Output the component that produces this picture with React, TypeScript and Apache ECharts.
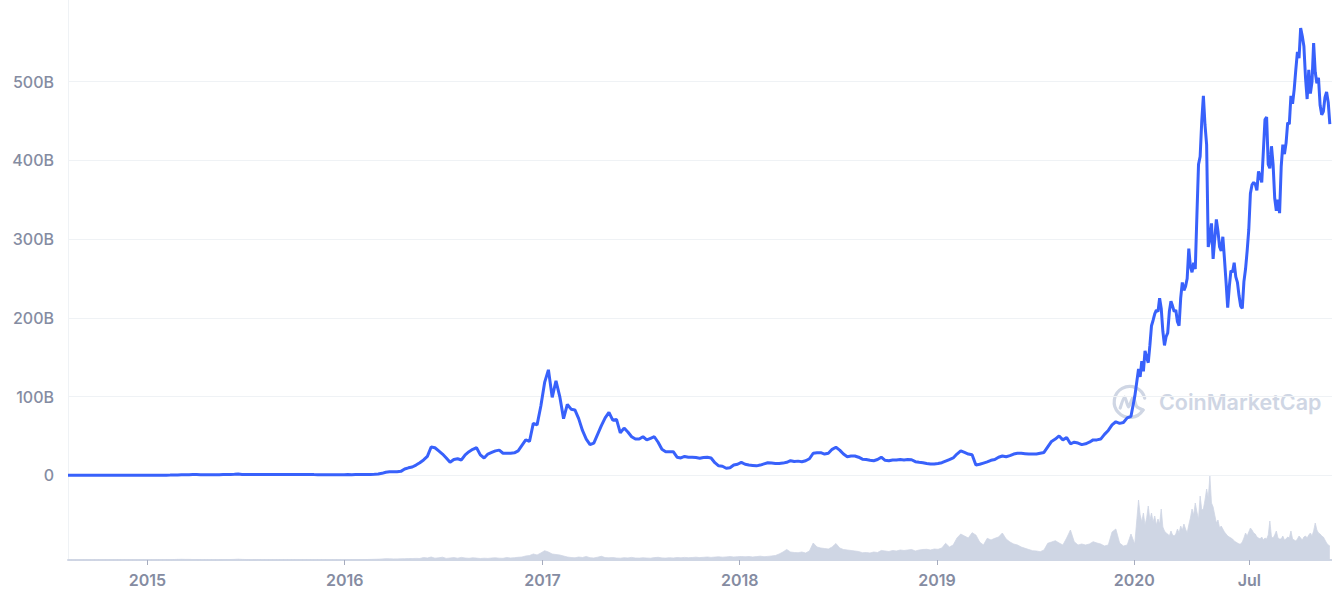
import { useEffect, useRef } from "react";
import * as echarts from "echarts";

// ---- data -------------------------------------------------------------
const X_MIN = "2014-08-07";
const X_MAX = "2021-01-01";

// weekly samples of market cap (billions USD)
const WEEKLY_START = "2014-08-07";
const WEEKLY_STEP_DAYS = 7;
const CAP_WEEKLY = [
  0.2, 0.13, 0.1, 0.09, 0.1, 0.09, 0.07, 0.08, 0.07, 0.07,
  0.08, 0.07, 0.07, 0.08, 0.07, 0.07, 0.07, 0.06, 0.06, 0.06,
  0.07, 0.07, 0.07, 0.11, 0.16, 0.18, 0.2, 0.25, 0.35, 0.5,
  0.7, 0.8, 0.85, 0.95, 0.9, 0.75, 0.65, 0.6, 0.6, 0.7,
  0.8, 0.9, 1.0, 1.1, 1.2, 1.6, 1.15, 1.0, 0.9, 0.95,
  1.1, 1.0, 0.9, 0.9, 0.9, 0.95, 1.0, 1.0, 1.05, 1.1,
  1.1, 1.05, 1.0, 1.0, 0.98, 0.9, 0.85, 0.8, 0.73, 0.72,
  0.73, 0.68, 0.63, 0.7, 0.87, 0.85, 0.92, 0.95, 0.97, 1.0,
  1.12, 1.3, 1.7, 2.5, 3.9, 4.5, 4.6, 4.5, 5, 8,
  9.5, 10.5, 13, 16, 19.5, 24, 36, 35, 31, 27,
  22, 16.5, 20, 21, 19.5, 26, 30, 33, 35, 26,
  22, 27, 29, 31, 32, 28, 28, 28, 28.5, 31,
  38, 45, 43, 66, 64, 88, 118, 134, 99, 120,
  100, 72, 90, 84, 83, 72, 57, 46, 39, 41,
  52, 63, 73, 80, 70, 71, 54, 60, 55, 49,
  46, 46, 49, 45, 47, 49, 42, 33, 30, 30,
  30, 23, 22, 24, 23, 23, 22.5, 21.6, 22.5, 23,
  22, 16, 12, 11.5, 9, 9.5, 13, 14, 16.5, 14,
  13, 12.5, 12, 13, 14.5, 16, 15.5, 15, 15, 15.5,
  16.5, 18.5, 17.5, 18, 17.3, 18.5, 21, 28, 28.5, 28.7,
  27, 28, 33, 35.6, 32, 27, 23.6, 24.5, 24.5, 23,
  20.5, 20, 19, 18.5, 20, 23, 19, 18.5, 19.5, 19.5,
  20, 19.5, 20, 19.8, 17.3, 16.5, 16, 15, 14.3, 14.5,
  15, 16, 18, 20, 22, 27, 31, 29, 27, 26,
  13, 14, 15.5, 17, 19, 20, 23, 24.5, 23.6, 25,
  27, 28, 28, 27.5, 27, 27, 27, 28, 29, 36,
  43, 46, 50, 45, 48, 40, 42, 41, 39, 40,
  42, 45, 45, 46, 52, 57, 64, 68, 66, 67,
  73, 75, 100,
];

// trading volume, weekly samples (arbitrary billions)
const VOL_WEEKLY = [
  0.3, 0.2, 0.2, 0.2, 0.2, 0.2, 0.2, 0.2, 0.2, 0.2,
  0.2, 0.2, 0.2, 0.2, 0.2, 0.2, 0.2, 0.2, 0.2, 0.2,
  0.2, 0.2, 0.2, 0.2, 0.3, 0.3, 0.3, 0.4, 0.5, 0.6,
  0.7, 0.6, 0.6, 0.5, 0.5, 0.4, 0.4, 0.4, 0.4, 0.4,
  0.4, 0.5, 0.5, 0.5, 0.6, 0.8, 0.6, 0.5, 0.4, 0.4,
  0.5, 0.4, 0.4, 0.4, 0.4, 0.4, 0.4, 0.4, 0.4, 0.4,
  0.4, 0.4, 0.4, 0.4, 0.4, 0.4, 0.4, 0.4, 0.4, 0.4,
  0.4, 0.4, 0.4, 0.4, 0.5, 0.5, 0.5, 0.5, 0.5, 0.5,
  0.6, 0.7, 0.8, 1.0, 1.3, 1.2, 1.1, 1.1, 1.2, 1.3,
  1.4, 1.5, 1.6, 1.5, 2.5, 2, 3, 1.8, 2.2, 2.8,
  1.6, 2, 2.4, 1.8, 2.6, 2, 1.7, 2.2, 1.9, 1.5,
  1.8, 1.6, 2, 2.2, 1.8, 1.7, 2.5, 2, 2.3, 2.7,
  3, 4, 4.5, 6, 5, 7, 9.3, 8, 6, 5.5,
  5, 4, 3, 2.5, 2.2, 3, 2.5, 3.5, 2.3, 2,
  2.8, 3.7, 2.4, 2.2, 2.5, 2, 1.8, 2.3, 2.1, 2.6,
  2, 1.9, 2.2, 2, 1.8, 2.4, 2.7, 2.1, 1.9, 2.3,
  2, 2.5, 2.2, 2.6, 2.3, 2.5, 2.8, 2.4, 2.7, 3,
  2.6, 2.9, 3.2, 2.8, 3.1, 3.4, 3, 3.3, 3.5, 3.2,
  3.5, 3, 3.4, 3.8, 3.3, 3.6, 4, 4.5, 6, 8,
  10.5, 8, 7.5, 7.3, 8, 7, 9, 17, 13, 12,
  11.5, 11, 13, 16.5, 12, 10.5, 10, 9.5, 9, 8.5,
  7.3, 7.5, 7, 8, 7.5, 9.5, 9, 8.5, 9.5, 9,
  10, 9.5, 10, 10.5, 9, 10, 10.5, 10.7, 10, 11,
  10.7, 12, 16.7, 13, 15, 22, 26, 24, 22, 27.3,
  25, 18, 15, 21.7, 20, 21.7, 23, 27, 21, 18,
  16, 15, 13, 11.7, 10.5, 9.3, 9, 8.3, 10, 16.7,
  18, 19.3, 17, 15, 22, 30, 18.3, 15, 16, 15,
  16, 18.3, 17, 16, 14, 15, 28, 31, 17, 14,
  15, 26, 16,
];

// denser samples for the volatile last year
const DENSE_START = "2020-01-09";
const DENSE_STEP_DAYS = 3;
const CAP_DENSE = [
  135, 125, 145, 132, 158, 150, 143, 165, 190, 197,
  205, 210, 208, 225, 212, 183, 165, 176, 181, 208,
  221, 215, 208, 210, 195, 190, 225, 245, 235, 240,
  250, 288, 265, 258, 270, 262, 330, 395, 405, 450,
  482, 445, 420, 290, 300, 320, 275, 300, 325, 310,
  290, 285, 303, 275, 245, 213, 240, 260, 258, 270,
  252, 245, 228, 215, 212, 246, 262, 285, 312, 358,
  369, 372, 370, 362, 386, 380, 372, 412, 452, 455,
  395, 390, 418, 395, 352, 336, 350, 333, 392, 420,
  408, 422, 448, 446, 482, 472, 490, 515, 538, 530,
  568, 558, 545, 505, 478, 515, 485, 500, 549, 512,
  498, 505, 470, 458, 462, 480, 487, 474, 446,
];
const VOL_DENSE = [
  60, 45, 38, 47, 35, 42, 54, 40, 47, 38,
  44, 35, 41, 36, 51, 33, 29, 27, 26, 24,
  29, 25, 24, 26, 31, 27, 34, 30, 36, 31,
  27, 35, 42, 51, 45, 57, 48, 41, 64, 50,
  51, 60, 71, 62, 84, 57, 53, 45, 37, 40,
  32, 34, 31, 28, 26, 24, 23, 22, 21, 19,
  18, 17, 16, 16, 18, 22, 27, 24, 28, 32,
  30, 27, 26, 23, 22, 21, 23, 20, 22, 21,
  25, 39, 23, 22, 25, 29, 22, 21, 21, 24,
  20, 21, 23, 22, 29, 21, 20, 19, 21, 24,
  22, 20, 23, 24, 22, 25, 27, 24, 29, 37,
  30, 27, 26, 24, 23, 20, 17, 15, 14,
];

const TICK_DATES = ["2015-01-01", "2016-01-01", "2017-01-01", "2018-01-01", "2019-01-01", "2020-01-01", "2020-08-01"];
const TICK_LABELS = ["2015", "2016", "2017", "2018", "2019", "2020", "Jul"];

const Y_MAX = 500;
const Y_STEP = 100;
const VOL_AXIS_MAX = 84;

// ---- helpers -----------------------------------------------------------
const DAY = 86400000;
const ts = (d: string) => Date.parse(d + "T00:00:00Z");

function seriesPairs(start: string, stepDays: number, values: number[]) {
  const t0 = ts(start);
  return values.map((v, i) => [t0 + i * stepDays * DAY, v]);
}

const FONT = "Inter, 'Noto Sans', sans-serif";
const LABEL_COLOR = "#858ca2";

export default function App() {
  const ref = useRef<HTMLDivElement>(null);

  useEffect(() => {
    if (!ref.current) return;
    const chart = echarts.init(ref.current, undefined, { renderer: "svg" });

    const capData = [
      ...seriesPairs(WEEKLY_START, WEEKLY_STEP_DAYS, CAP_WEEKLY),
      ...seriesPairs(DENSE_START, DENSE_STEP_DAYS, CAP_DENSE),
    ];
    const volData = [
      ...seriesPairs(WEEKLY_START, WEEKLY_STEP_DAYS, VOL_WEEKLY),
      ...seriesPairs(DENSE_START, DENSE_STEP_DAYS, VOL_DENSE),
    ];
    const tickTimes = TICK_DATES.map(ts);
    const labelFor = (v: number) => {
      let best = 0;
      for (let i = 1; i < tickTimes.length; i++) {
        if (Math.abs(tickTimes[i] - v) < Math.abs(tickTimes[best] - v)) best = i;
      }
      return TICK_LABELS[best];
    };

    const cx = 1129.7;
    const cy = 402;

    chart.setOption({
      animation: false,
      backgroundColor: "#ffffff",
      grid: [
        { left: 68, right: 0, top: 81.7, height: 393.6 },
        { left: 68, right: 0, top: 476, height: 84 },
      ],
      xAxis: [
        { type: "value", gridIndex: 0, min: ts(X_MIN), max: ts(X_MAX), show: false, splitLine: { show: false } },
        {
          type: "value",
          gridIndex: 1,
          min: ts(X_MIN),
          max: ts(X_MAX),
          axisLine: { show: true, lineStyle: { color: "#cfd6e4", width: 2 } },
          axisTick: { show: true, customValues: tickTimes, length: 5, lineStyle: { color: "#a6acbe", width: 1 } },
          axisLabel: {
            customValues: tickTimes,
            formatter: (v: number) => labelFor(v),
            color: LABEL_COLOR,
            fontSize: 16,
            fontWeight: 600,
            fontFamily: FONT,
            margin: 12,
          },
          splitLine: { show: false },
        },
      ],
      yAxis: [
        {
          type: "value",
          gridIndex: 0,
          min: 0,
          max: Y_MAX,
          interval: Y_STEP,
          axisLine: { show: false },
          axisTick: { show: false },
          axisLabel: {
            formatter: (v: number) => (v === 0 ? "0" : v + "B"),
            color: LABEL_COLOR,
            fontSize: 16,
            fontWeight: 500,
            fontFamily: FONT,
            margin: 14,
          },
          splitLine: { show: true, lineStyle: { color: "#eff2f5", width: 1 } },
        },
        { type: "value", gridIndex: 1, min: 0, max: VOL_AXIS_MAX, show: false, splitLine: { show: false } },
      ],
      graphic: [
        { type: "line", z: 0, shape: { x1: 68.5, y1: 0, x2: 68.5, y2: 560 }, style: { stroke: "#eff2f5", lineWidth: 1 } },
        {
          type: "arc",
          z: 0,
          shape: { cx, cy, r: 15.5, startAngle: 0.55, endAngle: Math.PI * 2 - 0.25, clockwise: true },
          style: { stroke: "#cfd6e4", lineWidth: 3.2, fill: "none", lineCap: "round" },
        },
        {
          type: "polyline",
          z: 0,
          shape: {
            points: [
              [cx - 9.5, cy + 6],
              [cx - 5, cy - 5],
              [cx - 1.2, cy + 5],
              [cx + 3.5, cy - 5],
              [cx + 7, cy + 4.5],
              [cx + 13.5, cy + 8],
            ],
            smooth: 0.25,
          },
          style: { stroke: "#cfd6e4", lineWidth: 3.2, fill: "none", lineCap: "round", lineJoin: "round" },
        },
        {
          type: "text",
          z: 0,
          x: 1159,
          y: 402,
          style: {
            text: "CoinMarketCap",
            fill: "#cfd6e4",
            fontSize: 21.5,
            fontWeight: 600,
            fontFamily: FONT,
            verticalAlign: "middle",
            align: "left",
          },
        },
      ],
      series: [
        {
          name: "Volume",
          type: "line",
          xAxisIndex: 1,
          yAxisIndex: 1,
          data: volData,
          showSymbol: false,
          lineStyle: { color: "#cfd6e4", width: 0.8 },
          areaStyle: { color: "#cfd6e4", opacity: 1 },
          z: 1,
          silent: true,
        },
        {
          name: "Market Cap",
          type: "line",
          xAxisIndex: 0,
          yAxisIndex: 0,
          data: capData,
          showSymbol: false,
          clip: false,
          lineStyle: { color: "#3861fb", width: 3 },
          z: 5,
          silent: true,
        },
      ],
    });

    return () => chart.dispose();
  }, []);

  return (
    <div
      ref={ref}
      style={{ position: "fixed", left: 0, top: 0, width: 1332, height: 600, background: "#fff" }}
    />
  );
}
